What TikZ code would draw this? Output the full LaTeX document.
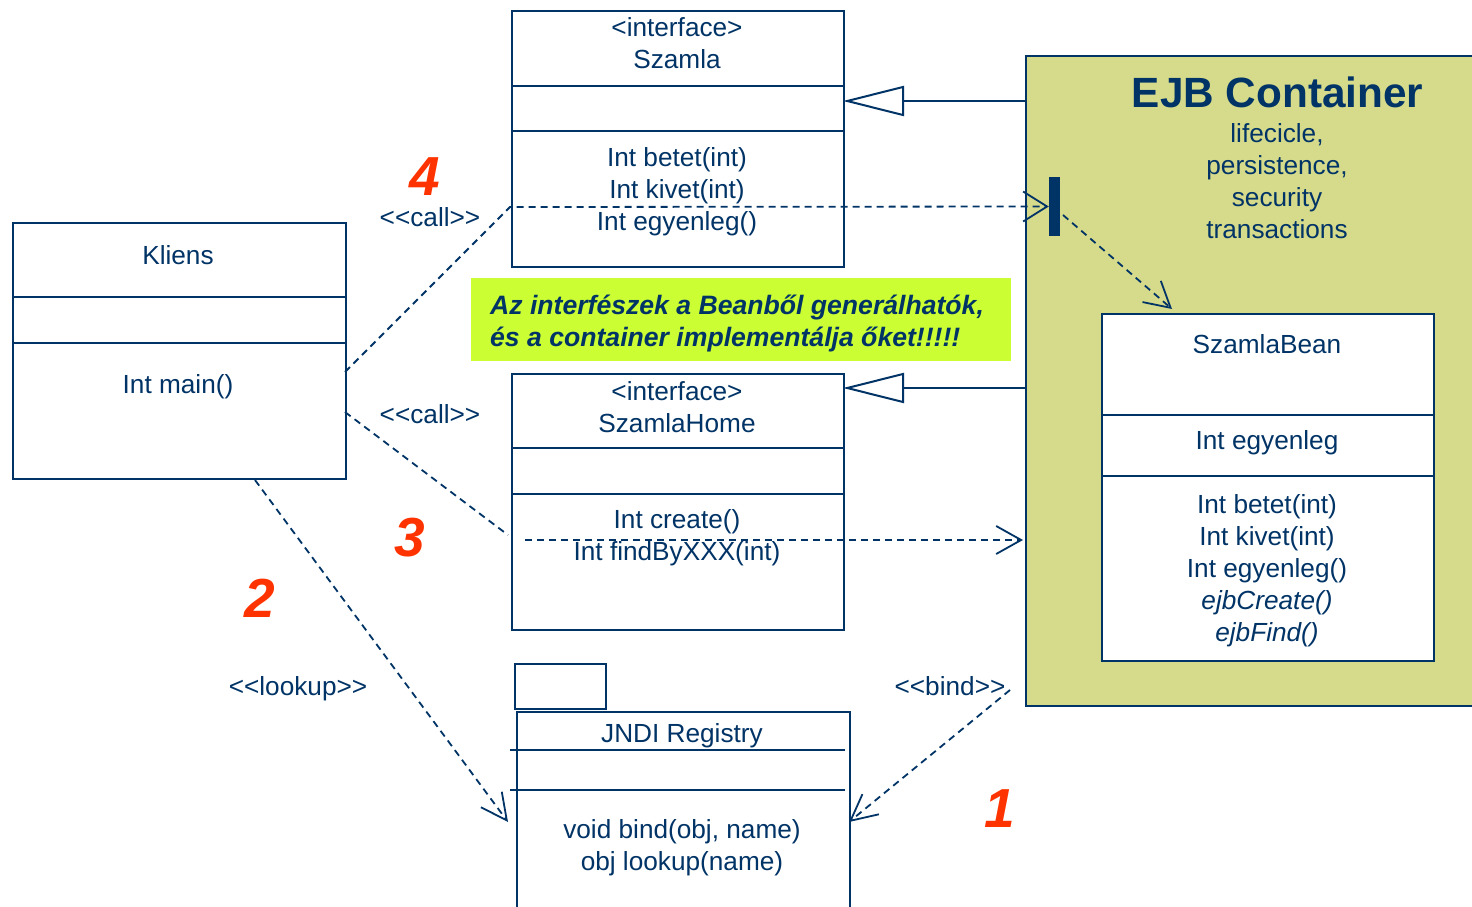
\documentclass[tikz,border=0pt]{standalone}
\usepackage{fontspec}
\setmainfont{Liberation Sans}[Ligatures=TeXOff]
\usetikzlibrary{arrows.meta}
\definecolor{ink}{HTML}{003366}
\definecolor{contfill}{HTML}{D6DB8B}
\definecolor{notefill}{HTML}{CCFF33}
\definecolor{numred}{HTML}{FF3300}
\begin{document}
\begin{tikzpicture}[x=1pt,y=-1pt,
  every node/.style={text=ink, inner sep=0pt, font=\fontsize{26.2}{32}\selectfont},
  txt/.style={anchor=base},
  classbox/.style={draw=ink, line width=2pt, fill=white, anchor=north west, minimum width=332pt, minimum height=256pt},
  divider/.style={draw=ink, line width=2pt},
  dep/.style={draw=ink, line width=1.8pt, dash pattern=on 7pt off 5pt},
  deparrow/.style={dep, -{Straight Barb[length=24pt, width=30pt, line width=1.8pt]}},
  gen/.style={draw=ink, line width=2pt, -{Triangle[open, length=61pt, width=30pt, fill=white, line width=2pt]}},
  stereo/.style={anchor=base},
  notetext/.style={anchor=base west, font=\fontsize{26.6}{32}\selectfont\bfseries\itshape},
  stepnum/.style={anchor=base, text=numred, font=\fontsize{55}{60}\selectfont\bfseries\itshape},
]
\useasboundingbox (0,0) rectangle (1472,907);
\clip (0,0) rectangle (1472,907);

% EJB container area
\node[draw=ink, line width=2pt, fill=contfill, anchor=north west,
      minimum width=470pt, minimum height=650pt] (ejb) at (1025,55) {};
\node[txt, font=\fontsize{42.3}{48}\selectfont\bfseries] (ejbtitle) at (1277.5,107) {EJB Container};
\node[txt] (svc1) at (1277,142) {lifecicle,};
\node[txt] (svc2) at (1277,174) {persistence,};
\node[txt] (svc3) at (1277,206) {security};
\node[txt] (svc4) at (1277,238) {transactions};

% SzamlaBean class
\node[classbox, minimum height=347pt] (bean) at (1101,313) {};
\draw[divider] (1101,415) -- (1433,415);
\draw[divider] (1101,476) -- (1433,476);
\node[txt] (beanname) at (1267,353) {SzamlaBean};
\node[txt] (beanattr) at (1267,449) {Int egyenleg};
\node[txt] (beanm1) at (1267,513) {Int betet(int)};
\node[txt] (beanm2) at (1267,545) {Int kivet(int)};
\node[txt] (beanm3) at (1267,577) {Int egyenleg()};
\node[txt, font=\fontsize{26.2}{32}\selectfont\itshape] (beanm4) at (1267,609) {ejbCreate()};
\node[txt, font=\fontsize{26.2}{32}\selectfont\itshape] (beanm5) at (1267,641) {ejbFind()};

% Szamla interface
\node[classbox] (szamla) at (511,10) {};
\draw[divider] (511,86) -- (843,86);
\draw[divider] (511,131) -- (843,131);
\node[txt] (szst) at (677,37) {<interface>};
\node[txt] (szname) at (677,69) {Szamla};
\node[txt] (szm1) at (677,166) {Int betet(int)};
\node[txt] (szm2) at (677,198) {Int kivet(int)};
\node[txt] (szm3) at (677,230) {Int egyenleg()};

% Kliens class
\node[classbox, minimum width=333pt] (kliens) at (12,222) {};
\draw[divider] (12,297) -- (345,297);
\draw[divider] (12,343) -- (345,343);
\node[txt] (klname) at (178,264) {Kliens};
\node[txt] (klm1) at (178,393) {Int main()};

% SzamlaHome interface
\node[classbox] (home) at (511,373) {};
\draw[divider] (511,448) -- (843,448);
\draw[divider] (511,494) -- (843,494);
\node[txt] (hmst) at (677,400) {<interface>};
\node[txt] (hmname) at (677,432) {SzamlaHome};
\node[txt] (hmm1) at (677,528) {Int create()};
\node[txt] (hmm2) at (677,560) {Int findByXXX(int)};

% JNDI registry
\node[draw=ink, line width=2pt, fill=white, anchor=north west,
      minimum width=91pt, minimum height=45pt] (jnditab) at (514,663) {};
\node[classbox, minimum width=333pt, minimum height=210pt] (jndi) at (516,711) {};
\draw[divider] (510,750) -- (845,750);
\draw[divider] (510,790) -- (845,790);
\node[txt] (jnname) at (682,742) {JNDI Registry};
\node[txt] (jnm1) at (682,838) {void bind(obj, name)};
\node[txt] (jnm2) at (682,870) {obj lookup(name)};

% remark
\node[fill=notefill, anchor=north west, minimum width=540pt, minimum height=83pt] (remark) at (471,278) {};
\node[notetext] (remark1) at (490,314) {Az interfészek a Beanből generálhatók,};
\node[notetext] (remark2) at (490,346) {és a container implementálja őket!!!!!};

% container realises the interfaces
\coordinate (g1) at (1025,101);
\coordinate (g1t) at (843,101);
\coordinate (g2) at (1025,388);
\coordinate (g2t) at (843,388);
\draw[gen] (g1) -- (g1t);
\draw[gen] (g2) -- (g2t);

% interceptor bar
\node[fill=ink, minimum width=11pt, minimum height=59pt] (bar) at (1054.5,206.5) {};

% connection points
\coordinate (k4) at (345,372);
\coordinate (c4) at (510,207);
\coordinate (k3) at (345,412);
\coordinate (c3) at (508,535);
\coordinate (h3) at (525,540);
\coordinate (h3t) at (1023,540);
\coordinate (b1) at (1063,215);
\coordinate (b1t) at (1172,309);
\coordinate (k2) at (255,480);
\coordinate (k2t) at (508,822);
\coordinate (e1) at (1010,690);
\coordinate (e1t) at (849,822);

% dependencies
\draw[deparrow] (k4) -- (c4) -- (bar.west);
\draw[deparrow, -{Straight Barb[length=25pt, width=28pt, line width=1.8pt]}] (b1) -- (b1t);
\draw[dep] (k3) -- (c3);
\draw[deparrow, -{Straight Barb[length=25pt, width=28pt, line width=1.8pt]}] (h3) -- (h3t);
\draw[deparrow, -{Straight Barb[length=26pt, width=26pt, line width=1.8pt]}] (k2) -- (k2t);
\draw[deparrow, -{Straight Barb[length=26pt, width=26pt, line width=1.8pt]}] (e1) -- (e1t);

% stereotypes
\node[stereo] (call4) at (430,226) {<<call>>};
\node[stereo] (call3) at (430,423) {<<call>>};
\node[stereo] (lookup2) at (298,695) {<<lookup>>};
\node[stereo] (bind1) at (950,695) {<<bind>>};

% step numbers
\node[stepnum] (n4) at (425,195) {4};
\node[stepnum] (n3) at (410,556) {3};
\node[stepnum] (n2) at (260,617) {2};
\node[stepnum] (n1) at (1000,827) {1};
\end{tikzpicture}
\end{document}
